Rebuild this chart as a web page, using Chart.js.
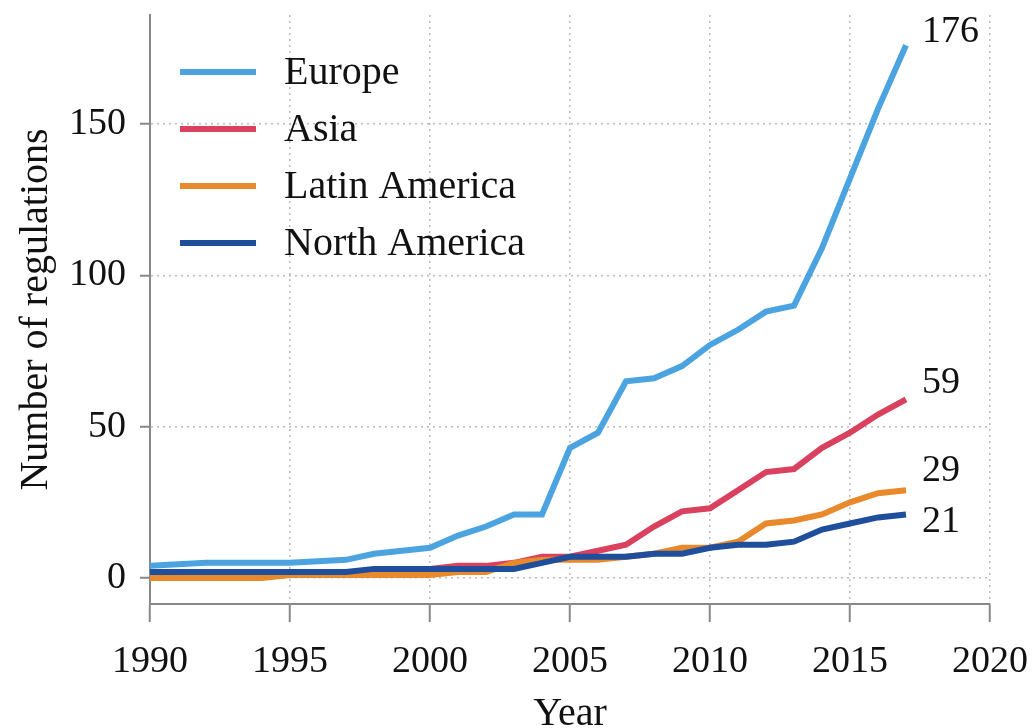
<!DOCTYPE html>
<html>
<head>
<meta charset="utf-8">
<script src="https://cdn.jsdelivr.net/npm/chart.js@4"></script>
<style>
  body { margin: 0; background: #fff; }
  #wrap { width: 1033px; height: 728px; }
</style>
</head>
<body>
<div id="wrap"><canvas id="chart"></canvas></div>
<script>
const years = [
  1990, 1991, 1992, 1993, 1994, 1995, 1996, 1997, 1998, 1999,
  2000, 2001, 2002, 2003, 2004, 2005, 2006, 2007, 2008, 2009,
  2010, 2011, 2012, 2013, 2014, 2015, 2016, 2017
];
const europe = [4, 4.5, 5, 5, 5, 5, 5.5, 6, 8, 9, 10, 14, 17, 21, 21, 43, 48, 65, 66, 70, 77, 82, 88, 90, 109, 132, 155, 176];
const asia = [2, 2, 2, 2, 2, 2, 2, 2, 2, 2, 3, 4, 4, 5, 7, 7, 9, 11, 17, 22, 23, 29, 35, 36, 43, 48, 54, 59];
const latinAmerica = [0, 0, 0, 0, 0, 1, 1, 1, 1, 1, 1, 2, 2, 5, 6, 6, 6, 7, 8, 10, 10, 12, 18, 19, 21, 25, 28, 29];
const northAmerica = [2, 2, 2, 2, 2, 2, 2, 2, 3, 3, 3, 3, 3, 3, 5, 7, 7, 7, 8, 8, 10, 11, 11, 12, 16, 18, 20, 21];

const seriesNames = ['Europe', 'Asia', 'Latin America', 'North America'];
const seriesColors = ['#4ba3e0', '#d9415f', '#e8892b', '#1f4e9c'];
const yTicks = [0, 50, 100, 150];
const xTicks = [1990, 1995, 2000, 2005, 2010, 2015, 2020];

const font = "'Liberation Serif', 'DejaVu Serif', serif";
const tickSize = 38;
const textSize = 40;

// end labels nudged so they don't collide
const endLabelOffsets = [-13, -16, -19, 8];

function toPoints(values) {
  return values.map((v, i) => ({ x: years[i], y: v }));
}

const datasets = [europe, asia, latinAmerica, northAmerica].map((values, i) => ({
  label: seriesNames[i],
  data: toPoints(values),
  borderColor: seriesColors[i],
  backgroundColor: seriesColors[i],
  borderWidth: 6,
  pointRadius: 0,
  tension: 0,
  order: 4 - i
}));

const extras = {
  id: 'extras',
  afterDatasetsDraw(chart) {
    const ctx = chart.ctx;
    ctx.save();
    ctx.fillStyle = '#111';
    ctx.textBaseline = 'middle';
    ctx.textAlign = 'left';
    // end-of-line values
    ctx.font = tickSize + 'px ' + font;
    chart.data.datasets.forEach((ds, i) => {
      const meta = chart.getDatasetMeta(i);
      const last = meta.data[meta.data.length - 1];
      const value = ds.data[ds.data.length - 1].y;
      ctx.fillText(String(value), last.x + 16, last.y + endLabelOffsets[i]);
    });
    // legend inside the plot, top left
    ctx.font = textSize + 'px ' + font;
    const area = chart.chartArea;
    chart.data.datasets.forEach((ds, i) => {
      const y = area.top + 57 + i * 57;
      ctx.strokeStyle = ds.borderColor;
      ctx.lineWidth = 6;
      ctx.beginPath();
      ctx.moveTo(area.left + 30, y);
      ctx.lineTo(area.left + 106, y);
      ctx.stroke();
      ctx.fillText(ds.label, area.left + 134, y + 1);
    });
    ctx.restore();
  }
};

const gridOpts = (len) => ({
  color: '#bbb',
  lineWidth: 1.5,
  tickColor: '#888',
  tickWidth: 2,
  tickLength: len,
  tickBorderDash: []
});

new Chart(document.getElementById('chart'), {
  type: 'line',
  data: { datasets: datasets },
  options: {
    responsive: true,
    maintainAspectRatio: false,
    animation: false,
    layout: { padding: { top: 15, right: 43, left: 0, bottom: 0 } },
    plugins: {
      legend: { display: false },
      tooltip: { enabled: false }
    },
    scales: {
      x: {
        type: 'linear',
        min: 1990,
        max: 2020,
        afterBuildTicks: (scale) => { scale.ticks = xTicks.map((v) => ({ value: v })); },
        afterFit: (scale) => {
          scale.height = 124;
          scale.paddingLeft = 0;
          scale.paddingRight = 0;
        },
        ticks: {
          color: '#111',
          font: { family: font, size: tickSize },
          padding: 17,
          maxRotation: 0,
          callback: (v) => String(v)
        },
        grid: gridOpts(18),
        border: { display: true, color: '#888', width: 2, dash: [2, 4] },
        title: {
          display: true,
          text: 'Year',
          color: '#111',
          font: { family: font, size: textSize },
          padding: { top: 0, bottom: -10 }
        }
      },
      y: {
        min: -8.6,
        max: 186,
        afterBuildTicks: (scale) => { scale.ticks = yTicks.map((v) => ({ value: v })); },
        afterFit: (scale) => {
          scale.width = 150;
          scale.paddingTop = 0;
          scale.paddingBottom = 0;
        },
        ticks: {
          color: '#111',
          font: { family: font, size: tickSize },
          padding: 14
        },
        grid: gridOpts(10),
        border: { display: true, color: '#888', width: 2, dash: [2, 4] },
        title: {
          display: true,
          text: 'Number of regulations',
          color: '#111',
          font: { family: font, size: textSize },
          padding: { top: 12, bottom: 0 }
        }
      }
    }
  },
  plugins: [extras]
});
</script>
</body>
</html>
